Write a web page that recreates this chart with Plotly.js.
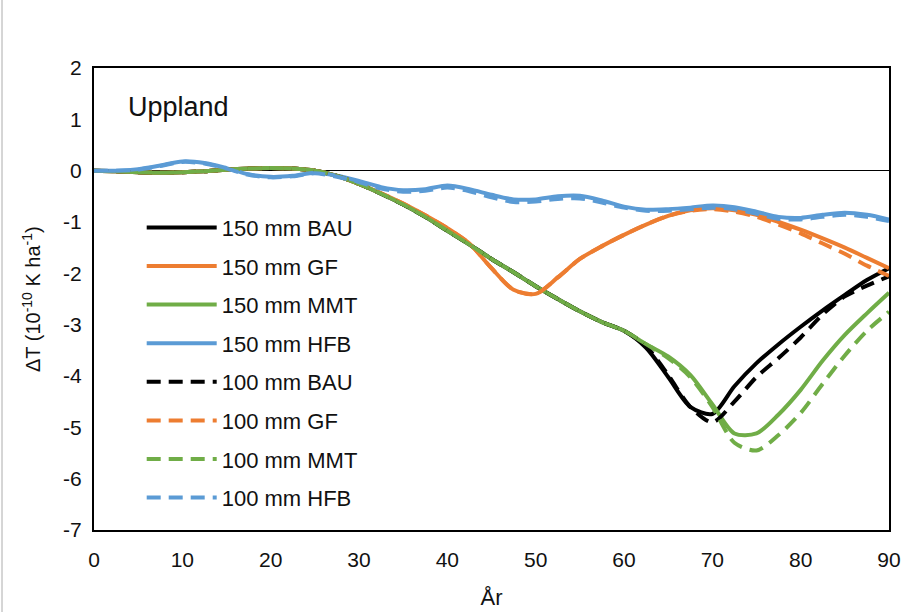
<!DOCTYPE html>
<html>
<head>
<meta charset="utf-8">
<script src="https://cdn.plot.ly/plotly-3.0.1.min.js"></script>
<style>html,body{margin:0;padding:0;background:#fff;}#chart{width:901px;height:612px;}</style>
</head>
<body>
<div id="chart"></div>
<script>
var years = [0,2.5,5,7.5,10,12.5,15,17.5,20,22.5,25,27.5,30,32.5,35,37.5,40,42.5,45,47.5,50,52.5,55,57.5,60,62.5,65,67.5,70,72.5,75,77.5,80,82.5,85,87.5,90];

var bau150 = [0,-0.01,-0.03,-0.04,-0.03,-0.01,0.02,0.04,0.05,0.04,0,-0.1,-0.26,-0.45,-0.66,-0.9,-1.17,-1.44,-1.72,-1.98,-2.25,-2.5,-2.74,-2.95,-3.12,-3.45,-4.02,-4.6,-4.74,-4.2,-3.75,-3.38,-3.04,-2.72,-2.42,-2.13,-1.9];
var gf150  = [0,-0.01,-0.03,-0.04,-0.03,-0.01,0.02,0.04,0.05,0.04,0,-0.1,-0.26,-0.44,-0.64,-0.87,-1.12,-1.42,-1.9,-2.32,-2.4,-2.08,-1.72,-1.47,-1.25,-1.05,-0.88,-0.77,-0.73,-0.77,-0.86,-1.0,-1.15,-1.32,-1.5,-1.7,-1.9];
var mmt150 = [0,-0.01,-0.03,-0.04,-0.03,-0.01,0.02,0.04,0.05,0.04,0,-0.1,-0.26,-0.45,-0.66,-0.9,-1.17,-1.44,-1.72,-1.98,-2.25,-2.5,-2.74,-2.95,-3.12,-3.38,-3.62,-3.98,-4.55,-5.12,-5.12,-4.75,-4.27,-3.7,-3.2,-2.78,-2.38];
var hfb150 = [0,0,0.03,0.1,0.18,0.15,0.05,-0.07,-0.12,-0.1,-0.04,-0.1,-0.2,-0.32,-0.38,-0.36,-0.29,-0.36,-0.47,-0.56,-0.56,-0.5,-0.49,-0.58,-0.7,-0.76,-0.75,-0.72,-0.68,-0.71,-0.8,-0.9,-0.92,-0.86,-0.82,-0.86,-0.95];
var bau100 = [0,-0.01,-0.03,-0.04,-0.03,-0.01,0.02,0.04,0.05,0.04,0,-0.1,-0.26,-0.45,-0.66,-0.9,-1.17,-1.44,-1.72,-1.98,-2.25,-2.5,-2.74,-2.95,-3.12,-3.42,-3.98,-4.6,-4.9,-4.5,-4.02,-3.65,-3.25,-2.8,-2.45,-2.24,-2.06];
var gf100  = [0,-0.01,-0.03,-0.04,-0.03,-0.01,0.02,0.04,0.05,0.04,0,-0.1,-0.26,-0.44,-0.64,-0.87,-1.12,-1.42,-1.9,-2.32,-2.4,-2.08,-1.72,-1.47,-1.25,-1.05,-0.88,-0.78,-0.75,-0.8,-0.9,-1.05,-1.22,-1.42,-1.62,-1.85,-2.05];
var mmt100 = [0,-0.01,-0.03,-0.04,-0.03,-0.01,0.02,0.04,0.05,0.04,0,-0.1,-0.26,-0.45,-0.66,-0.9,-1.17,-1.44,-1.72,-1.98,-2.25,-2.5,-2.74,-2.95,-3.12,-3.38,-3.65,-4.02,-4.6,-5.3,-5.45,-5.15,-4.72,-4.15,-3.6,-3.12,-2.75];
var hfb100 = [0,0,0.02,0.09,0.17,0.14,0.04,-0.08,-0.13,-0.11,-0.05,-0.12,-0.22,-0.35,-0.41,-0.39,-0.33,-0.4,-0.52,-0.61,-0.6,-0.55,-0.54,-0.62,-0.72,-0.78,-0.78,-0.75,-0.72,-0.75,-0.84,-0.94,-0.95,-0.9,-0.86,-0.9,-0.98];

var seriesNames = ['150 mm BAU','150 mm GF','150 mm MMT','150 mm HFB','100 mm BAU','100 mm GF','100 mm MMT','100 mm HFB'];
var seriesValues = [bau150, gf150, mmt150, hfb150, bau100, gf100, mmt100, hfb100];
var seriesColors = ['#000000','#ED7D31','#70AD47','#5B9BD5','#000000','#ED7D31','#70AD47','#5B9BD5'];
var seriesDash = ['solid','solid','solid','solid','14px,8px','14px,8px','14px,8px','14px,8px'];

var yTickVals = [2,1,0,-1,-2,-3,-4,-5,-6,-7];
var yTickLabels = ['2','1','0','-1','-2','-3','-4','-5','-6','-7'];
var xTickVals = [0,10,20,30,40,50,60,70,80,90];

var FONT = 'Liberation Sans, Arial, Helvetica, sans-serif';
var TXT = '#111111';

var traces = seriesNames.map(function(n, i){
  return {
    x: years, y: seriesValues[i], name: n, type: 'scatter', mode: 'lines',
    legendgroup: 'g' + i,
    line: {color: seriesColors[i], width: 4, dash: seriesDash[i], shape: 'spline', smoothing: 0.8}
  };
});

var layout = {
  width: 901, height: 612,
  margin: {l: 94, r: 12, t: 68, b: 82},
  paper_bgcolor: '#ffffff', plot_bgcolor: '#ffffff',
  font: {family: FONT, size: 21, color: TXT},
  showlegend: true,
  legend: {
    x: 0.06, y: 0.70, xanchor: 'left', yanchor: 'top',
    bgcolor: 'rgba(0,0,0,0)', font: {family: FONT, size: 22, color: TXT},
    traceorder: 'grouped', tracegroupgap: 7, itemwidth: 70
  },
  xaxis: {
    range: [0, 90], tickvals: xTickVals, ticks: '', ticklen: 0, showgrid: false, zeroline: false,
    showline: true, mirror: true, linecolor: '#000000', linewidth: 2,
    ticklabelstandoff: 10,
    tickfont: {family: FONT, size: 21, color: TXT},
    title: {text: 'År', font: {family: FONT, size: 22, color: TXT}, standoff: 19}
  },
  yaxis: {
    range: [-7, 2], tickvals: yTickVals, ticktext: yTickLabels, ticks: '', ticklen: 0, showgrid: false,
    zeroline: true, zerolinecolor: '#000000', zerolinewidth: 1.5,
    showline: true, mirror: true, linecolor: '#000000', linewidth: 2,
    ticklabelstandoff: 6,
    tickfont: {family: FONT, size: 21, color: TXT}
  },
  annotations: [{
    text: 'Uppland', xref: 'paper', yref: 'paper', x: 0.04, y: 0.916,
    xanchor: 'left', yanchor: 'middle', showarrow: false,
    font: {family: FONT, size: 27, color: TXT}
  }, {
    text: 'ΔT (10<sup>-10</sup> K ha<sup>-1</sup>)', xref: 'paper', yref: 'paper',
    x: -0.0792, y: 0.5, xanchor: 'center', yanchor: 'middle', textangle: -90, showarrow: false,
    font: {family: FONT, size: 20, color: TXT}
  }],
  shapes: [{
    type: 'line', xref: 'paper', yref: 'paper', x0: -0.1157, x1: -0.1157, y0: -0.2, y1: 1.2,
    line: {color: '#c8c8c8', width: 1.5}
  }]
};

Plotly.newPlot('chart', traces, layout, {displayModeBar: false, staticPlot: true});
</script>
</body>
</html>
